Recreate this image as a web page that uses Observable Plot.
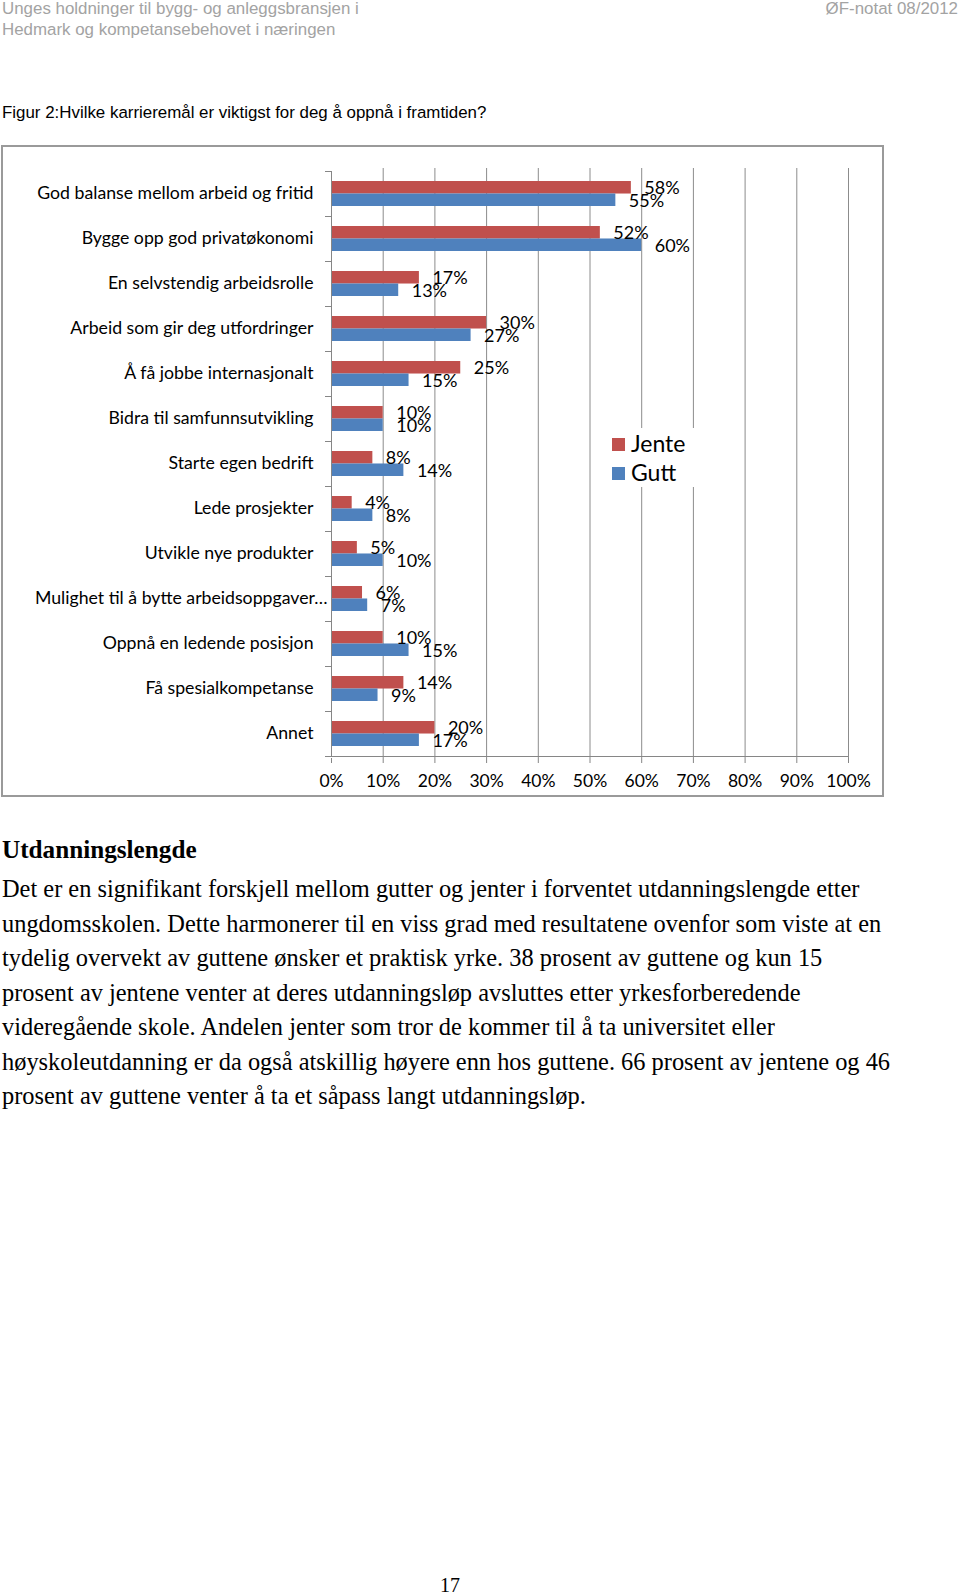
<!DOCTYPE html>
<html>
<head>
<meta charset="utf-8">
<script src="https://cdn.jsdelivr.net/npm/d3@7"></script>
<script src="https://cdn.jsdelivr.net/npm/@observablehq/plot@0.6"></script>
<style>
  body { margin: 0; background: #fff; }
  #page { position: relative; width: 960px; height: 1596px; overflow: hidden; background: #fff; }
  .hdr { position: absolute; font-family: "Liberation Sans", Arial, sans-serif; font-size: 16.9px; line-height: 16px; color: #a3a3a3; white-space: nowrap; }
  .fig { position: absolute; font-family: "Liberation Sans", Arial, sans-serif; font-size: 16.9px; line-height: 18px; color: #000; white-space: nowrap; }
  #frame { position: absolute; left: 1px; top: 145px; width: 879px; height: 648px; border: 2px solid #9a9a9a; }
  #frame svg { position: absolute; left: 0; top: 0; }
  #legend { position: absolute; left: 596px; top: 428px; width: 110px; height: 59px; background: #fff; font-family: Lato, sans-serif; font-size: 23px; color: #000; }
  .sw { position: absolute; width: 13px; height: 13px; }
  .lt { position: absolute; line-height: 24px; white-space: nowrap; }
  .body { position: absolute; left: 2px; font-family: "Liberation Serif", "Times New Roman", serif; font-size: 24.4px; line-height: 34.5px; color: #000; white-space: nowrap; }
  .h2 { font-weight: bold; font-size: 25.2px; }
  .pnum { position: absolute; left: 440px; top: 1573px; font-family: "Liberation Serif", serif; font-size: 20px; line-height: 24px; }
</style>
</head>
<body>
<div id="page">
  <div class="hdr" style="left:2px; top:1px;">Unges holdninger til bygg- og anleggsbransjen i</div>
  <div class="hdr" style="left:2px; top:22px;">Hedmark og kompetansebehovet i næringen</div>
  <div class="hdr" style="right:2px; top:1px;">ØF-notat 08/2012</div>
  <div class="fig" style="left:2px; top:104px;">Figur 2:Hvilke karrieremål er viktigst for deg å oppnå i framtiden?</div>
  <div id="frame"></div>
  <div id="legend"></div>
  <div id="text"></div>
  <div class="pnum">17</div>
</div>
<script>
// ---- data ----
const categories = [
  "God balanse mellom arbeid og fritid",
  "Bygge opp god privatøkonomi",
  "En selvstendig arbeidsrolle",
  "Arbeid som gir deg utfordringer",
  "Å få jobbe internasjonalt",
  "Bidra til samfunnsutvikling",
  "Starte egen bedrift",
  "Lede prosjekter",
  "Utvikle nye produkter",
  "Mulighet til å bytte arbeidsoppgaver…",
  "Oppnå en ledende posisjon",
  "Få spesialkompetanse",
  "Annet"
];
const jente = [58, 52, 17, 30, 25, 10, 8, 4, 5, 6, 10, 14, 20];
const gutt  = [55, 60, 13, 27, 15, 10, 14, 8, 10, 7, 15, 9, 17];
const series = ["Jente", "Gutt"];
const colors = ["#C0504D", "#4F81BD"];
const xTicks = [0, 10, 20, 30, 40, 50, 60, 70, 80, 90, 100];

const heading = "Utdanningslengde";
const bodyLines = [
  "Det er en signifikant forskjell mellom gutter og jenter i forventet utdanningslengde etter",
  "ungdomsskolen. Dette harmonerer til en viss grad med resultatene ovenfor som viste at en",
  "tydelig overvekt av guttene ønsker et praktisk yrke. 38 prosent av guttene og kun 15",
  "prosent av jentene venter at deres utdanningsløp avsluttes etter yrkesforberedende",
  "videregående skole. Andelen jenter som tror de kommer til å ta universitet eller",
  "høyskoleutdanning er da også atskillig høyere enn hos guttene. 66 prosent av jentene og 46",
  "prosent av guttene venter å ta et såpass langt utdanningsløp."
];

// ---- table ----
const rows = categories.flatMap((c, i) => [
  {cat: c, g: series[0], v: jente[i]},
  {cat: c, g: series[1], v: gutt[i]}
]);

const W = 879, H = 648, mL = 328, mR = 34, mT = 21, mB = 37;
const padIn = 0.45, padOut = padIn / 2;
const step = (H - mT - mB) / categories.length;
const half = step * (1 - padIn) / 2;
const axisColor = "#868686";

function axisLines(index, scales) {
  const x0 = scales.x(0), x1 = scales.x(100);
  const bw = typeof scales.y.bandwidth === "function" ? scales.y.bandwidth() : scales.y.bandwidth;
  const ys = categories.map(c => scales.y(c));
  const st = ys[1] - ys[0];
  const gap = (st - bw) / 2;
  const bounds = ys.map(v => v - gap).concat([ys[ys.length - 1] + bw + gap]);
  const g = d3.create("svg:g").attr("stroke", axisColor).attr("fill", "none").attr("stroke-width", 1);
  g.append("line").attr("x1", x0 + 0.5).attr("x2", x0 + 0.5).attr("y1", bounds[0]).attr("y2", bounds[bounds.length - 1]);
  g.append("line").attr("x1", x0).attr("x2", x1).attr("y1", bounds[bounds.length - 1] + 0.5).attr("y2", bounds[bounds.length - 1] + 0.5);
  for (const b of bounds) {
    g.append("line").attr("x1", x0 - 6).attr("x2", x0).attr("y1", Math.round(b) + 0.5).attr("y2", Math.round(b) + 0.5);
  }
  return g.node();
}

const isLong = c => c.endsWith("…");
const catFont = 17.7, valFont = 18, tickFont = 17.5;

const plot = Plot.plot({
  width: W, height: H,
  marginLeft: mL, marginRight: mR, marginTop: mT, marginBottom: mB,
  style: {background: "transparent", fontFamily: "Lato, sans-serif", fontSize: "17px", color: "#000"},
  x: {domain: [0, 100], label: null},
  y: {domain: categories, paddingInner: padIn, paddingOuter: padOut, axis: null, label: null},
  color: {domain: series, range: colors},
  marks: [
    Plot.gridX(xTicks.slice(1), {stroke: "#8c8c8c", strokeOpacity: 1, strokeWidth: 1}),
    Plot.barX(rows.filter(d => d.g === series[0]), {x: "v", y: "cat", fill: "g", insetBottom: half}),
    Plot.barX(rows.filter(d => d.g === series[1]), {x: "v", y: "cat", fill: "g", insetTop: half}),
    axisLines,
    Plot.axisX(xTicks, {tickSize: 5, tickPadding: 11, stroke: axisColor, fill: "#000", fontSize: tickFont, tickFormat: d => d + "%", label: null}),
    Plot.text(categories.filter(c => !isLong(c)), {y: d => d, text: d => d, frameAnchor: "left", textAnchor: "end", dx: -18, dy: -1, fontSize: catFont, fill: "#000"}),
    Plot.text(categories.filter(isLong), {y: d => d, text: d => d, frameAnchor: "left", textAnchor: "end", dx: -4, dy: -1, fontSize: catFont, fill: "#000"}),
    Plot.text(rows.filter(d => d.g === series[0]), {x: "v", y: "cat", text: d => d.v + "%", textAnchor: "start", dx: 13, dy: -5.5, fontSize: valFont, fill: "#000"}),
    Plot.text(rows.filter(d => d.g === series[1]), {x: "v", y: "cat", text: d => d.v + "%", textAnchor: "start", dx: 13, dy: 7, fontSize: valFont, fill: "#000"})
  ]
});
document.getElementById("frame").appendChild(plot);

// legend
const legend = document.getElementById("legend");
series.forEach((s, i) => {
  const sw = document.createElement("div");
  sw.className = "sw";
  sw.style.left = "16px";
  sw.style.top = (10 + i * 29) + "px";
  sw.style.background = colors[i];
  legend.appendChild(sw);
  const t = document.createElement("div");
  t.className = "lt";
  t.style.left = "35px";
  t.style.top = (3 + i * 29) + "px";
  t.textContent = s;
  legend.appendChild(t);
});

// body text
const textEl = document.getElementById("text");
const h = document.createElement("div");
h.className = "body h2";
h.style.top = "833px";
h.textContent = heading;
textEl.appendChild(h);
bodyLines.forEach((l, i) => {
  const d = document.createElement("div");
  d.className = "body";
  d.style.top = (872 + i * 34.5) + "px";
  d.textContent = l;
  textEl.appendChild(d);
});
</script>
</body>
</html>
